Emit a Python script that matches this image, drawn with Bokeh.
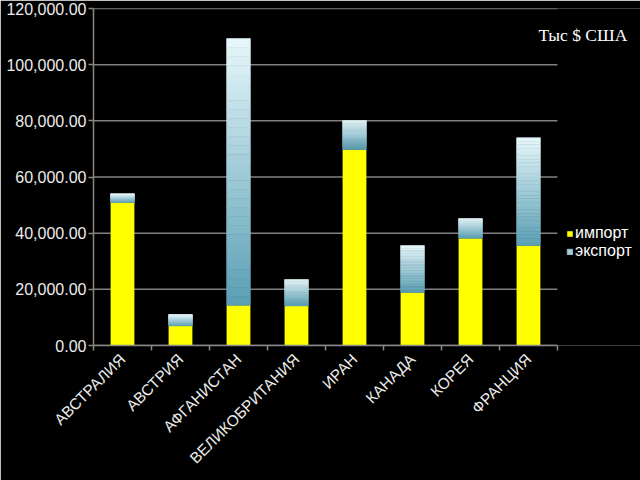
from bokeh.plotting import figure
from bokeh.models import (Range1d, FixedTicker, NumeralTickFormatter, Legend, LegendItem, Label)
from bokeh.embed import file_html
from bokeh.resources import INLINE
import math

countries = ["АВСТРАЛИЯ", "АВСТРИЯ", "АФГАНИСТАН", "ВЕЛИКОБРИТАНИЯ",
             "ИРАН", "КАНАДА", "КОРЕЯ", "ФРАНЦИЯ"]
imports = [51000, 7000, 14300, 14100, 69800, 18900, 38200, 35600]
exports = [3000, 4000, 95000, 9400, 10300, 16700, 7000, 38400]
y_ticks = [0, 20000, 40000, 60000, 80000, 100000, 120000]

n = len(countries)
xs = [i + 0.5 for i in range(n)]

# frame spans to the right edge so the legend and note are not clipped;
# the plotted area itself (axis, grid) stops at x = n
PX_PER_CAT = 58
FRAME_W = 640 - 93
x_end = FRAME_W / PX_PER_CAT

p = figure(width=640, height=480, output_backend="svg", toolbar_location=None,
           x_range=Range1d(0, x_end), y_range=Range1d(0, 120000),
           min_border_left=93, min_border_right=0, min_border_top=8, min_border_bottom=135,
           background_fill_color="black", border_fill_color="black", outline_line_color=None)

# horizontal grid lines limited to the category span
p.segment(x0=[0] * len(y_ticks), x1=[n] * len(y_ticks), y0=y_ticks, y1=y_ticks,
          line_color="#808080", line_width=1.5)

BAR_W = 0.41
imp_r = p.vbar(x=xs, bottom=0, top=imports, width=BAR_W, fill_color="#ffff00", line_color=None)

def lerp(c1, c2, t):
    a = [int(c1[i:i + 2], 16) for i in (1, 3, 5)]
    b = [int(c2[i:i + 2], 16) for i in (1, 3, 5)]
    return "#%02x%02x%02x" % tuple(round(a[k] + (b[k] - a[k]) * t) for k in range(3))

BOTTOM_C, TOP_C = "#5a9fb4", "#e6f7fb"
SLICES = 30
exp_renderers = []
for k in range(SLICES):
    t0, t1 = k / SLICES, (k + 1) / SLICES
    bots = [im + ex * t0 for im, ex in zip(imports, exports)]
    tops = [im + ex * t1 for im, ex in zip(imports, exports)]
    col = lerp(BOTTOM_C, TOP_C, (k + 0.5) / SLICES)
    r = p.vbar(x=xs, bottom=bots, top=tops, width=BAR_W,
               fill_color=col, line_color=col, line_width=0.6)
    exp_renderers.append(r)

p.xaxis.bounds = (0, n)
p.xaxis.ticker = FixedTicker(ticks=xs, minor_ticks=list(range(n + 1)))
p.xaxis.major_label_overrides = {x: c for x, c in zip(xs, countries)}
p.xaxis.major_label_orientation = math.pi / 4
p.xaxis.major_tick_out = 0
p.xaxis.major_tick_in = 0
p.xaxis.minor_tick_out = 5
p.xaxis.minor_tick_in = 0
p.xaxis.minor_tick_line_color = "#888888"
p.xaxis.minor_tick_line_width = 1.5
p.xaxis.major_label_standoff = 6

p.yaxis.ticker = FixedTicker(ticks=y_ticks)
p.yaxis.formatter = NumeralTickFormatter(format="0,0.00")
p.yaxis.major_tick_out = 5
p.yaxis.major_tick_in = 0
p.yaxis.minor_tick_out = 0
p.yaxis.minor_tick_in = 0
p.yaxis.major_label_standoff = 2
p.yaxis.major_tick_line_color = "#888888"
p.yaxis.major_tick_line_width = 1.5

for ax in (p.xaxis, p.yaxis):
    ax.axis_line_color = "#888888"
    ax.axis_line_width = 1.5
    ax.major_label_text_color = "#ececec"
    ax.major_label_text_font = "Liberation Sans"
p.yaxis.major_label_text_font_size = "16px"
p.xaxis.major_label_text_font_size = "15.5px"

p.xgrid.grid_line_color = None
p.ygrid.grid_line_color = None

legend = Legend(items=[LegendItem(label="импорт", renderers=[imp_r]),
                       LegendItem(label="экспорт", renderers=[exp_renderers[SLICES // 2]])],
                location=(473, 85), orientation="vertical",
                background_fill_alpha=0, border_line_color=None,
                label_text_color="white", label_text_font="Liberation Sans",
                label_text_font_size="16px", glyph_width=7, glyph_height=7,
                label_height=17, label_standoff=2, spacing=0, padding=0, margin=0)
p.add_layout(legend, "center")

p.add_layout(Label(x=445, y=301, x_units="screen", y_units="screen", text="Тыс $ США",
                   text_font="Liberation Serif", text_font_size="17.5px", text_color="white"))

open("out.html", "w").write(file_html(p, INLINE))
